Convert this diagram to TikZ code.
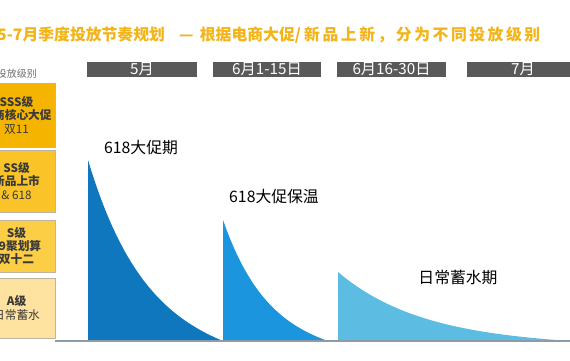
\documentclass[tikz,border=0pt]{standalone}
\usepackage{fontspec}
\setmainfont{Noto Sans CJK SC}
\newfontfamily\spacedfont[LetterSpace=16]{Noto Sans CJK SC}
\usepackage{xcolor}
\usetikzlibrary{positioning}
\definecolor{xgold}{HTML}{F3B41A}
\definecolor{xbar}{HTML}{595959}
\definecolor{xdeep}{HTML}{0E77BD}
\definecolor{xmid}{HTML}{1B96DE}
\definecolor{xlight}{HTML}{5CBCE2}
\definecolor{xline}{HTML}{8D9BA8}
\definecolor{xtext}{HTML}{3A3A3A}
\definecolor{xgray}{HTML}{6E6E6E}
\definecolor{xedge}{HTML}{BDB5A2}
\definecolor{lvsss}{HTML}{F5B400}
\definecolor{lvss}{HTML}{FAC428}
\definecolor{lvs}{HTML}{FCCE46}
\definecolor{lva}{HTML}{FDE2A0}

\begin{document}
\begin{tikzpicture}[
    x=0.03cm, y=-0.03cm,
    bar/.style={rectangle, fill=xbar, text=white, inner sep=0pt, minimum height=0.45cm, font=\fontsize{13}{13}\selectfont},
    level/.style={rectangle, draw=xedge, fill=#1, text=xtext, align=center, inner sep=0pt, minimum width=2.31cm, font=\fontsize{10}{11.5}\selectfont},
    phase/.style={text=black, inner sep=0pt, font=\fontsize{13.5}{13.5}\selectfont},
    heading/.style={anchor=west, inner sep=0pt, text=xgold, font=\bfseries\fontsize{13.5}{13.5}\selectfont},
]
\useasboundingbox (0,0) rectangle (570,360);
\clip (0,0) rectangle (570,360);

% Title
\node[heading] (title) at (-3,35) {5-7月季度投放节奏规划\hspace{0.9em}—\hspace{0.4em}根据电商大促/};
\node[heading, font=\spacedfont\bfseries\fontsize{13.5}{13.5}\selectfont] (subtitle) at (304,35) {新品上新，分为不同投放级别};

% Month bars
\foreach \nm/\cx/\w/\txt in {
    may/142/110/5月,
    junea/267/108/6月1-15日,
    juneb/391.5/109/6月16-30日,
    july/523/112/7月%
} {
    \node[bar, minimum width=\w*0.03cm] (\nm) at (\cx,69.5) {\txt};
}

% Levels
\node[anchor=east, inner sep=0pt, text=xgray, font=\fontsize{8.5}{8.5}\selectfont] (lvhead) at (37,74) {投放级别};
\foreach \lv/\ya/\yb/\c/\txt in {
    sss/83/147/lvsss/{\textbf{SSS级}\\\textbf{电商核心大促}\\双11},
    ss/150/212/lvss/{\textbf{SS级}\\\textbf{新品上市}\\\& 618},
    s/220/272/lvs/{\textbf{S级}\\\textbf{99聚划算}\\\textbf{双十二}},
    a/278/338/lva/{\textbf{A级}\\日常蓄水}%
} {
    \node[level=\c, minimum height={(\yb-\ya)*0.03cm}] (\lv) at (16.5,{(\ya+\yb)/2}) {\txt};
}

% Decay curves
\foreach \xa/\xb/\ytop/\k/\c in {88/223/160/2.4/xdeep, 223/328/220/2.4/xmid, 338/570/272/2.8/xlight} {
    \fill[\c] (\xa,341) -- plot[domain=0:1, samples=60]
        ({\xa+(\xb-\xa)*\x}, {341-(341-\ytop)*(exp(-\k*\x)-\x*exp(-\k))}) -- cycle;
}

% Baseline
\coordinate (base-l) at (55,341);
\coordinate (base-r) at (570,341);
\draw[xline, line width=0.06cm] (base-l) -- (base-r);

% Phase labels
\node[phase] (peak) at (141,148) {618大促期};
\node[phase] (warm) at (274,197) {618大促保温};
\node[phase] (daily) at (458,278) {日常蓄水期};

\end{tikzpicture}
\end{document}
